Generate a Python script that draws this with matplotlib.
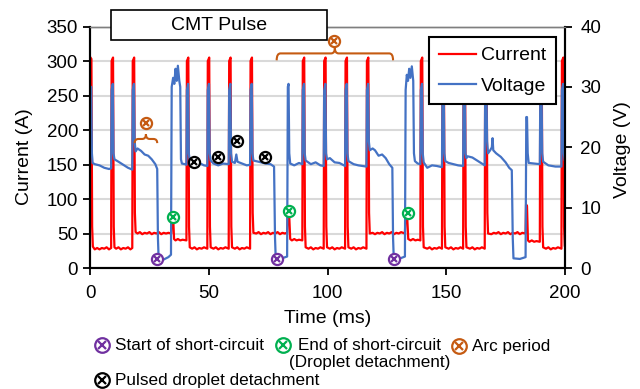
import matplotlib
matplotlib.use("Agg")
import matplotlib.pyplot as plt
from matplotlib.lines import Line2D
from matplotlib.patches import Rectangle, PathPatch
from matplotlib.path import Path

plt.rcParams['font.family'] = ['Liberation Sans', 'DejaVu Sans']

# ---- data ----
# current trace (time ms, current A)
current_pts = [
    (0.0, 306), (0.6, 303), (0.9, 60), (1.2, 31), (2.0, 27), (3.0, 29), (4.0, 27), (5.0, 29), (6.0, 28), (7.0, 30), (8.0, 27), (8.9, 29),
    (9.1, 300), (9.7, 305), (10.0, 60), (10.3, 30), (11.0, 28), (12.0, 30), (13.0, 27), (14.0, 29), (15.0, 28), (16.0, 30), (17.0, 27), (17.8, 29),
    (18.0, 300), (18.6, 305), (18.9, 80), (19.2, 52), (20.0, 50), (21.0, 52), (22.0, 49), (23.0, 51), (24.0, 50), (25.0, 52), (26.0, 49),
    (27.0, 51), (28.0, 50), (29.0, 52), (30.0, 49), (31.0, 51), (32.0, 50), (33.0, 51), (34.2, 50),
    (34.5, 76), (35.0, 74), (35.4, 42), (36.0, 40), (37.0, 42), (38.0, 40), (39.0, 41), (40.6, 40),
    (40.8, 300), (41.4, 305), (41.7, 60), (42.0, 30), (43.0, 28), (44.0, 30), (45.0, 27), (46.0, 29), (47.0, 28), (48.0, 30), (49.4, 28),
    (49.6, 300), (50.2, 305), (50.5, 60), (50.8, 30), (52.0, 28), (53.0, 30), (54.0, 27), (55.0, 29), (56.0, 28), (57.0, 30), (58.4, 28),
    (58.6, 300), (59.2, 305), (59.5, 60), (59.8, 30), (61.0, 28), (62.0, 30), (63.0, 27), (64.0, 29), (65.0, 28), (66.0, 30), (67.4, 28),
    (67.6, 300), (68.2, 305), (68.5, 80), (68.8, 51), (70.0, 50), (71.0, 52), (72.0, 49), (73.0, 51), (74.0, 50), (75.0, 52), (76.0, 49),
    (77.0, 51), (78.0, 50), (79.0, 52), (80.0, 49), (81.0, 51), (82.0, 50), (83.0, 51),
    (83.3, 84), (83.8, 82), (84.3, 42), (85.0, 40), (86.0, 42), (87.0, 40), (88.0, 41), (89.4, 40),
    (89.6, 300), (90.2, 305), (90.5, 60), (90.8, 30), (92.0, 28), (93.0, 30), (94.0, 27), (95.0, 29), (96.0, 28), (97.0, 30), (98.4, 28),
    (98.6, 300), (99.2, 305), (99.5, 60), (99.8, 30), (101.0, 28), (102.0, 30), (103.0, 27), (104.0, 29), (105.0, 28), (106.0, 30), (107.4, 28),
    (107.6, 300), (108.2, 305), (108.5, 60), (108.8, 30), (110.0, 28), (111.0, 30), (112.0, 27), (113.0, 29), (114.0, 28), (115.0, 30), (116.4, 28),
    (116.6, 300), (117.2, 305), (117.5, 80), (117.8, 50), (119.0, 51), (120.0, 49), (121.0, 51), (122.0, 50), (123.0, 52), (124.0, 49),
    (125.0, 51), (126.0, 50), (127.0, 52), (128.0, 49), (129.0, 51), (130.0, 50), (131.0, 52), (132.6, 50),
    (132.9, 80), (133.5, 78), (134.0, 42), (135.0, 40), (136.0, 42), (137.0, 40), (138.0, 41), (139.1, 40),
    (139.3, 300), (139.9, 305), (140.2, 60), (140.5, 30), (142.0, 28), (143.0, 30), (144.0, 27), (145.0, 29), (146.0, 28), (147.0, 30), (148.2, 28),
    (148.4, 300), (149.0, 305), (149.3, 60), (149.6, 30), (151.0, 28), (152.0, 30), (153.0, 27), (154.0, 29), (155.0, 28), (156.0, 30), (157.1, 28),
    (157.3, 300), (157.9, 305), (158.2, 60), (158.5, 30), (160.0, 28), (161.0, 30), (162.0, 27), (163.0, 29), (164.0, 28), (165.0, 30), (166.2, 28),
    (166.4, 300), (167.0, 305), (167.3, 80), (167.6, 50), (169.0, 49), (170.0, 51), (171.0, 50), (172.0, 52), (173.0, 49), (174.0, 51),
    (175.0, 50), (176.0, 52), (177.0, 49), (178.0, 51), (179.0, 50), (180.0, 52), (181.0, 49), (182.0, 51), (183.4, 50),
    (183.6, 92), (184.0, 90), (184.4, 40), (185.0, 38), (186.0, 40), (187.0, 38), (188.0, 39), (189.4, 38),
    (189.6, 300), (190.2, 305), (190.5, 60), (190.8, 30), (192.0, 28), (193.0, 30), (194.0, 27), (195.0, 29), (196.0, 28), (197.0, 30), (198.5, 28),
    (198.7, 300), (199.3, 305), (199.6, 60), (199.9, 32), (200.0, 31),
]

# voltage trace (time ms, voltage V)
voltage_pts = [
    (0.0, 29.5), (0.5, 30.0), (0.8, 19.0), (1.1, 17.4), (2.0, 17.2), (4.0, 17.0), (6.0, 16.6), (8.0, 16.4), (8.9, 16.5),
    (9.1, 29.5), (9.6, 30.5), (9.9, 19.0), (10.3, 18.0), (12.0, 17.6), (14.0, 17.1), (16.0, 16.6), (17.8, 16.3),
    (18.0, 29.5), (18.5, 30.5), (18.8, 21.0), (19.2, 19.3), (20.0, 19.8), (21.5, 19.4), (23.0, 18.8), (24.5, 18.6), (26.0, 18.0),
    (27.5, 17.2), (28.3, 16.4), (28.6, 5.0), (28.9, 1.5), (31.0, 1.4), (33.0, 1.8), (34.1, 2.2),
    (34.4, 30.0), (35.0, 31.5), (35.5, 30.5), (36.0, 33.0), (36.5, 31.0), (37.0, 33.5), (37.6, 31.0), (38.0, 30.0),
    (38.3, 18.0), (38.7, 17.3), (40.0, 17.2), (40.6, 17.1),
    (40.8, 29.5), (41.3, 30.5), (41.6, 19.0), (42.0, 17.8), (44.0, 17.2), (46.0, 17.4), (48.0, 17.0), (49.4, 16.9),
    (49.6, 29.5), (50.1, 30.5), (50.4, 19.0), (50.8, 17.8), (52.0, 17.3), (54.0, 17.0), (56.0, 17.3), (58.4, 17.2),
    (58.6, 29.5), (59.1, 30.5), (59.4, 19.0), (59.8, 17.6), (61.0, 17.4), (61.6, 18.8), (62.1, 17.6), (64.0, 17.3), (66.0, 17.0), (67.4, 17.1),
    (67.6, 29.5), (68.1, 30.5), (68.4, 19.0), (68.8, 17.8), (71.0, 17.6), (74.0, 17.3), (76.0, 17.2), (77.5, 16.8),
    (77.9, 5.0), (78.2, 1.6), (80.0, 1.5), (83.0, 1.9),
    (83.3, 30.0), (83.6, 30.5), (83.9, 19.0), (84.3, 17.3), (86.0, 17.0), (88.0, 17.4), (89.4, 17.2),
    (89.6, 29.5), (90.1, 30.5), (90.4, 19.0), (90.8, 17.8), (93.0, 17.2), (95.0, 17.5), (97.0, 17.0), (98.4, 16.9),
    (98.6, 29.5), (99.1, 30.5), (99.4, 19.0), (99.8, 18.0), (101.0, 18.2), (103.0, 17.5), (105.0, 17.4), (107.4, 16.9),
    (107.6, 29.5), (108.1, 30.5), (108.4, 19.0), (108.8, 17.7), (111.0, 17.2), (113.0, 17.0), (116.4, 16.8),
    (116.6, 29.5), (117.1, 30.5), (117.4, 21.0), (117.8, 19.5), (119.0, 19.8), (120.0, 19.5), (121.5, 18.6), (123.0, 18.8),
    (124.5, 18.2), (126.0, 17.2), (127.3, 16.6), (127.6, 5.0), (127.9, 1.6), (130.0, 1.5), (132.6, 1.9),
    (132.9, 29.5), (133.4, 32.0), (133.9, 31.0), (134.4, 33.0), (134.9, 31.5), (135.5, 33.4), (136.1, 31.0),
    (136.4, 19.0), (136.8, 17.7), (138.0, 17.3), (139.1, 17.2),
    (139.3, 29.5), (139.8, 30.5), (140.1, 19.0), (140.5, 17.5), (142.0, 16.6), (144.0, 17.0), (146.0, 16.9), (148.2, 16.7),
    (148.4, 29.5), (148.9, 30.5), (149.2, 19.0), (149.6, 17.7), (151.0, 17.4), (153.0, 17.2), (155.0, 17.0), (157.1, 16.9),
    (157.3, 29.5), (157.8, 30.5), (158.1, 19.0), (158.5, 18.2), (159.0, 18.5), (161.0, 18.3), (163.0, 17.8), (166.2, 17.0),
    (166.4, 29.5), (166.9, 30.5), (167.2, 21.0), (167.6, 19.0), (168.5, 19.5), (169.2, 20.0), (169.5, 21.5), (169.8, 19.5),
    (171.0, 19.0), (173.0, 18.4), (175.0, 17.5), (176.5, 16.6), (177.6, 16.2), (178.0, 5.0), (178.3, 1.6), (181.0, 1.5), (183.4, 1.8),
    (183.7, 25.0), (184.0, 25.0), (184.3, 19.0), (184.7, 17.4), (187.0, 17.3), (189.4, 17.2),
    (189.6, 29.5), (190.1, 30.5), (190.4, 19.0), (190.8, 17.6), (193.0, 17.0), (196.0, 16.8), (198.5, 16.8),
    (198.7, 29.5), (199.2, 30.5), (199.5, 19.0), (199.9, 17.8), (200.0, 17.8),
]

# event markers (time ms, height on current axis A)
sc_start_t = [28.3, 78.6, 128.0]
sc_start_a = [13, 13, 13]
sc_end_t = [34.9, 83.6, 133.9]
sc_end_a = [74, 83, 79]
pulse_det_t = [43.8, 53.9, 61.9, 73.7]
pulse_det_a = [154, 161, 184, 161]
arc_t = [23.6, 102.9]
arc_a = [210, 329]
# arc period spans (start, end) in ms
arc_spans = [(18.8, 28.3), (78.6, 127.6)]

x_ticks = [0, 50, 100, 150, 200]
cur_ticks = [0, 50, 100, 150, 200, 250, 300, 350]
volt_ticks = [0, 10, 20, 30, 40]

RED = '#ff0000'
BLUE = '#4472c4'
PURPLE = '#7030a0'
GREEN = '#00b050'
ORANGE = '#c55a11'
BLACK = '#000000'

fig = plt.figure(figsize=(6.4, 3.89), dpi=100)
ax = fig.add_axes([0.140625, 0.31105, 0.7421875, 0.62082])
ax2 = ax.twinx()

ax.plot([p[0] for p in current_pts], [p[1] for p in current_pts], color=RED, lw=1.6, label='Current')
ax2.plot([p[0] for p in voltage_pts], [p[1] for p in voltage_pts], color=BLUE, lw=1.6, label='Voltage')

ax.set_xlim(0, 200)
ax.set_ylim(0, 350)
ax2.set_ylim(0, 40)
ax.set_xticks(x_ticks)
ax.set_yticks(cur_ticks)
ax2.set_yticks(volt_ticks)
ax.yaxis.grid(True, color='#d9d9d9', lw=1.5)
ax.set_axisbelow(True)

for a in (ax, ax2):
    a.tick_params(labelsize=13.5, width=1.3, length=5, colors='black')
    a.spines['top'].set_color('#7f7f7f')
    a.spines['top'].set_linewidth(1.0)
    for s in ('left', 'bottom', 'right'):
        a.spines[s].set_linewidth(1.5)
        a.spines[s].set_color('black')
ax.tick_params(axis='x', pad=7)
ax2.tick_params(axis='y', pad=6)

ax.set_xlabel('Time (ms)', fontsize=14, labelpad=6)
ax.set_ylabel('Current (A)', fontsize=14)
ax.yaxis.set_label_coords(-0.12, 0.46)
ax2.set_ylabel('Voltage (V)', fontsize=14)
ax2.yaxis.set_label_coords(1.103, 0.49)


def otimes(axis, xs, ys, col, ms=8, xs_ms=4.6, **kw):
    axis.plot(xs, ys, ls='none', marker='o', ms=ms, mfc='white', mec=col, mew=1.6, zorder=6, **kw)
    axis.plot(xs, ys, ls='none', marker='x', ms=xs_ms, mec=col, mew=1.6, zorder=7, **kw)


tr = ax.transData
otimes(ax2, sc_start_t, sc_start_a, PURPLE, transform=tr)
otimes(ax2, sc_end_t, sc_end_a, GREEN, transform=tr)
otimes(ax2, pulse_det_t, pulse_det_a, BLACK, transform=tr)
otimes(ax2, arc_t, arc_a, ORANGE, transform=tr)


# braces above the arc periods
def brace(x0, x1, y_end, y_line, y_tip, r=1.6):
    xm = (x0 + x1) / 2
    verts = [(x0, y_end), (x0, y_line), (x0 + r, y_line),
             (xm - r, y_line), (xm, y_line), (xm, y_tip),
             (xm, y_line), (xm + r, y_line),
             (x1 - r, y_line), (x1, y_line), (x1, y_end)]
    codes = [Path.MOVETO, Path.CURVE3, Path.CURVE3,
             Path.LINETO, Path.CURVE3, Path.CURVE3,
             Path.CURVE3, Path.CURVE3,
             Path.LINETO, Path.CURVE3, Path.CURVE3]
    return PathPatch(Path(verts, codes), fill=False, ec=ORANGE, lw=1.5, transform=tr, zorder=6)


ax2.add_patch(brace(arc_spans[0][0], arc_spans[0][1], 181, 187, 194))
ax2.add_patch(brace(arc_spans[1][0], arc_spans[1][1], 301, 311, 319))

handles = [Line2D([], [], color=RED, lw=1.6), Line2D([], [], color=BLUE, lw=1.6)]
leg = ax2.legend(handles, ['Current', 'Voltage'], loc='upper right', bbox_to_anchor=(0.981, 0.9565),
                 fontsize=14, frameon=True, fancybox=False, framealpha=1, edgecolor='black',
                 handlelength=1.9, handletextpad=0.25, labelspacing=0.65, borderpad=0.5, borderaxespad=0)
leg.get_frame().set_linewidth(1.5)
leg.set_zorder(20)

# title box
fig.add_artist(Rectangle((111 / 640, 1 - 40 / 389), 215.7 / 640, 30 / 389, transform=fig.transFigure,
                         fc='white', ec='black', lw=1.2, zorder=10))
fig.text(218.8 / 640, 1 - 25 / 389, 'CMT Pulse', fontsize=14, ha='center', va='center', zorder=11)


# bottom legend
def fig_otimes(px, py, col):
    x, y = px / 640, 1 - py / 389
    fig.add_artist(Line2D([x], [y], transform=fig.transFigure, ls='none', marker='o', ms=10.5,
                          mfc='white', mec=col, mew=1.6))
    fig.add_artist(Line2D([x], [y], transform=fig.transFigure, ls='none', marker='x', ms=5.5,
                          mec=col, mew=1.6))


fig_otimes(101.7, 345, PURPLE)
fig.text(115 / 640, 1 - 345 / 389, 'Start of short-circuit', fontsize=12.3, ha='left', va='center')
fig_otimes(282.7, 345, GREEN)
fig.text(369.7 / 640, 1 - 354 / 389, 'End of short-circuit\n(Droplet detachment)', fontsize=12.3,
         ha='center', va='center', linespacing=1.25)
fig_otimes(459.3, 346, ORANGE)
fig.text(471.7 / 640, 1 - 346 / 389, 'Arc period', fontsize=12.3, ha='left', va='center')
fig_otimes(101.7, 380, BLACK)
fig.text(115 / 640, 1 - 380 / 389, 'Pulsed droplet detachment', fontsize=12.3, ha='left', va='center')

fig.savefig('out.png', dpi=100)
